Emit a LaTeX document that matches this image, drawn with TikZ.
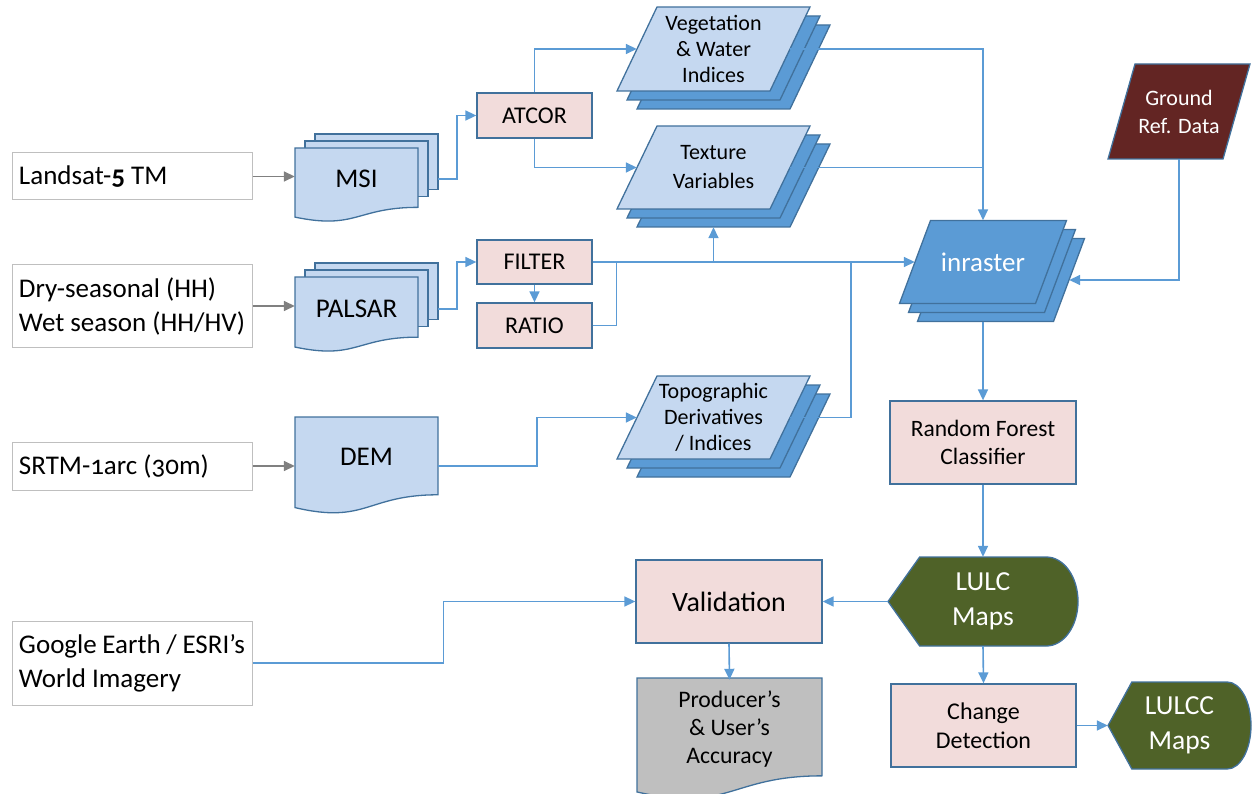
\documentclass[tikz,border=0pt]{standalone}
\usepackage{fontspec}
\setmainfont{Carlito}
\newfontfamily\srcfont[Numbers=OldStyle, Ligatures=TeX]{Carlito}
\usepackage{tikz}
\usetikzlibrary{arrows.meta, calc, positioning}
\usepackage{xcolor}

\definecolor{linkblue}{HTML}{5B9BD5}
\definecolor{edgeblue}{HTML}{41719C}
\definecolor{paleblue}{HTML}{C5D8F0}
\definecolor{midblue}{HTML}{5B9BD5}
\definecolor{pinkbox}{HTML}{F2DCDB}
\definecolor{groundred}{HTML}{632523}
\definecolor{olive}{HTML}{4F6228}
\definecolor{docgray}{HTML}{BFBFBF}

% document sheet: x, y (top left), w, h, style
\newcommand{\docshape}[5]{%
  \draw[#5] (#1,#2) -- ({#1+#3},#2) -- ({#1+#3},{#2+0.802*#4})
    .. controls ({#1+0.5*#3},{#2+0.802*#4}) and ({#1+0.5*#3},{#2+1.1075*#4}) .. (#1,{#2+0.934*#4}) -- cycle;}
% three stacked sheets
\newcommand{\multidoc}[4]{%
  \draw[sheet] ({#1+20},{#2-14}) rectangle ++(#3,{0.75*#4});
  \draw[sheet] ({#1+10},{#2-7}) rectangle ++(#3,{0.75*#4});
  \docshape{#1}{#2}{#3}{#4}{sheet}}
% slanted sheet: x, y (bottom left), w, h, skew, style
\newcommand{\slantbox}[6]{%
  \draw[#6] (#1,#2) -- ({#1+#3},#2) -- ({#1+#3+#5},{#2-#4}) -- ({#1+#5},{#2-#4}) -- cycle;}
% stack of slanted sheets: x, y, w, h, skew, dx, dy, front fill
\newcommand{\slantstack}[8]{%
  \slantbox{#1+2*#6}{#2+2*#7}{#3}{#4}{#5}{sheet, fill=midblue}
  \slantbox{#1+#6}{#2+#7}{#3}{#4}{#5}{sheet, fill=midblue}
  \slantbox{#1}{#2}{#3}{#4}{#5}{sheet, fill=#8}}
% display shape: x, y (top left), w, h, style
\newcommand{\dispshape}[5]{%
  \draw[#5] (#1,{#2+0.5*#4}) -- ({#1+#3/6},#2) -- ({#1+5*#3/6},#2)
    arc[start angle=90, end angle=-90, x radius={#3/6*1pt}, y radius={#4/2*1pt}]
    -- ({#1+#3/6},{#2+#4}) -- cycle;}

\begin{document}
\begin{tikzpicture}[x=1pt, y=-1pt,
    sheet/.style={draw=edgeblue, line width=1.3pt, fill=paleblue},
    srcbox/.style={draw=black!25, fill=white, line width=1pt, text width=226pt, inner xsep=7pt,
      minimum width=240pt, align=left, font=\srcfont\fontsize{27}{34}\selectfont,
      execute at begin node={\spaceskip=0pt\xspaceskip=0pt}},
    proc/.style={draw=edgeblue, fill=pinkbox, line width=1.3pt, align=center, inner sep=0pt},
    shapetext/.style={align=center, inner sep=0pt},
    link/.style={draw=linkblue, line width=1.6pt, -{Triangle[length=11pt, width=10pt]}},
    joinline/.style={draw=linkblue, line width=1.6pt},
    feed/.style={draw=gray, line width=1.6pt, -{Triangle[length=11pt, width=10pt]}}]
    \useasboundingbox (0,0) rectangle (1253,794);

    % sources
    \node[srcbox, minimum height=47pt] (landsat) at (132,176.5) {Landsat-\textbf{5} TM};
    \node[srcbox, minimum height=82pt] (dry) at (132,306) {Dry-seasonal~(HH)\\Wet~season~(HH/HV)};
    \node[srcbox, minimum height=48pt] (srtm) at (132,466) {SRTM-1arc (30m)};
    \node[srcbox, minimum height=84pt] (google) at (132,663) {Google~Earth~/~ESRI’s\\World Imagery};

    % image stacks
    \multidoc{295}{148}{123}{74}
    \multidoc{295}{277}{123}{75}
    \docshape{295}{417}{143}{97}{sheet}
    \node[shapetext, minimum width=123pt, minimum height=59pt, font=\fontsize{27}{30}\selectfont] (msi) at (356.5,179) {MSI};
    \node[shapetext, minimum width=123pt, minimum height=60pt, font=\fontsize{27}{30}\selectfont] (palsar) at (356.5,309) {PALSAR};
    \node[shapetext, minimum width=143pt, minimum height=78pt, font=\fontsize{27}{30}\selectfont] (dem) at (366.5,457) {DEM};

    % pre-processing
    \node[proc, minimum width=115pt, minimum height=45pt, font=\fontsize{24}{28}\selectfont] (atcor) at (534.5,115.5) {ATCOR};
    \node[proc, minimum width=115pt, minimum height=44pt, font=\fontsize{24}{28}\selectfont] (filter) at (534.5,262) {FILTER};
    \node[proc, minimum width=115pt, minimum height=45pt, font=\fontsize{24}{28}\selectfont] (ratio) at (534.5,325.5) {RATIO};

    % derived layers
    \slantstack{617}{91}{153}{84}{40}{10}{9}{paleblue}
    \slantstack{617}{209}{153}{83}{40}{10}{9}{paleblue}
    \slantstack{617}{459}{153}{83}{40}{10}{9}{paleblue}
    \node[shapetext, minimum width=153pt, minimum height=84pt, font=\fontsize{22}{26}\selectfont] (veg) at (713.5,49) {Vegetation\\\& Water\\Indices};
    \node[shapetext, minimum width=153pt, minimum height=83pt, font=\fontsize{22}{29}\selectfont] (tex) at (713.5,167.5) {Texture\\Variables};
    \node[shapetext, minimum width=153pt, minimum height=83pt, font=\fontsize{22}{26}\selectfont] (topo) at (713.5,417.5) {Topographic\\Derivatives\\/ Indices};

    % input raster and reference data
    \slantstack{899.5}{303.5}{136}{83}{31}{9}{9}{midblue}
    \slantbox{1108}{159}{115}{95}{27}{sheet, fill=groundred}
    \node[shapetext, minimum width=136pt, minimum height=83pt, text=white, font=\fontsize{27}{30}\selectfont] (inr) at (983,262) {inraster};
    \node[shapetext, minimum width=115pt, minimum height=95pt, text=white, font=\fontsize{22}{28}\selectfont] (gnd) at (1179,111.5) {Ground\\Ref. Data};

    % classification and outputs
    \node[proc, minimum width=186pt, minimum height=83pt, font=\fontsize{23.5}{28}\selectfont] (rf) at (983,442.5) {Random Forest\\Classifier};
    \dispshape{888}{557}{190}{89}{sheet, fill=olive}
    \node[shapetext, minimum width=190pt, minimum height=89pt, text=white, font=\fontsize{27.5}{35}\selectfont] (lulc) at (983,601.5) {LULC\\Maps};
    \node[proc, minimum width=186pt, minimum height=83pt, font=\fontsize{28}{30}\selectfont] (val) at (729,601.5) {Validation};
    \docshape{637}{678}{185}{122}{sheet, fill=docgray}
    \node[shapetext, minimum width=185pt, minimum height=98pt, font=\fontsize{23.7}{28}\selectfont] (prod) at (729.5,729) {Producer’s\\\& User’s\\Accuracy};
    \node[proc, minimum width=185pt, minimum height=83pt, font=\fontsize{24}{29}\selectfont] (change) at (983.5,725.5) {Change\\Detection};
    \dispshape{1108}{682}{143}{87}{sheet, fill=olive}
    \node[shapetext, minimum width=143pt, minimum height=87pt, text=white, font=\fontsize{27.5}{35}\selectfont] (lulcc) at (1179.5,725.5) {LULCC\\Maps};

    % feeds from sources
    \draw[feed] (landsat.east) -- (landsat.east -| msi.west);
    \draw[feed] (dry.east) -- (dry.east -| palsar.west);
    \draw[feed] (srtm.east) -- (srtm.east -| dem.west);

    % optical branch
    \draw[link] ([xshift=20pt]msi.east) -- ++(19,0) |- (atcor.west);
    \draw[link] (atcor.north) |- (veg.west);
    \draw[link] (atcor.south) |- (tex.west);

    % radar branch
    \draw[link] ([xshift=20pt]palsar.east) -- ++(19,0) |- (filter.west);
    \draw[link] (filter) -- (ratio);
    \draw[joinline] (ratio.east) -| ([xshift=24pt]filter.east);
    \draw[link] (filter.east) -- (inr.west);
    \draw[link] (filter.east -| tex.south) -- ([yshift=-18pt]tex.south);

    % terrain branch
    \coordinate (tojoin) at (851,262);
    \draw[link] (srtm.east -| dem.east) -- ++(99,0) |- (topo.west);
    \draw[joinline] (topo.east) -| (tojoin);

    % into inraster
    \draw[link] (veg.east) -| (inr.north);
    \draw[joinline] (tex.east) -- (tex.east -| inr.north);
    \draw[link] (gnd.south) |- ([xshift=18pt, yshift=-18pt]inr.east);

    % classification
    \draw[link] ([yshift=-18pt]inr.south) -- (rf.north);
    \draw[link] (rf.south) -- (lulc.north);
    \draw[link] (lulc.west) -- (val.east);
    \draw[link] (lulc.south) -- (change.north);
    \draw[link] (change.east) -- (lulcc.west);
    \draw[link] (val.south) -- (prod.north);
    \draw[link] (google.east) -- ++(191,0) |- (val.west);
\end{tikzpicture}
\end{document}
